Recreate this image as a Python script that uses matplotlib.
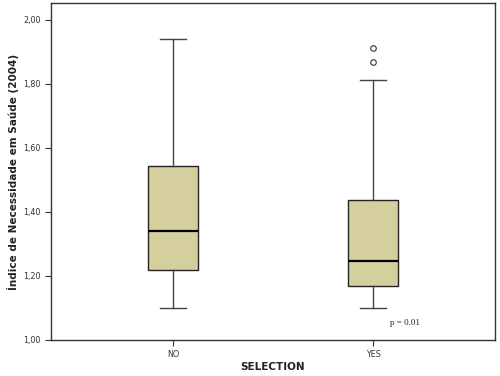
import matplotlib
matplotlib.use('Agg')
import matplotlib.pyplot as plt
from matplotlib.ticker import FuncFormatter

# values
groups = ['NO', 'YES']
whislo = [1.10, 1.10]
q1 = [1.22, 1.167]
medians = [1.341, 1.248]
q3 = [1.545, 1.438]
whishi = [1.942, 1.811]
outliers = [[], [1.870, 1.912]]
yticks = [1.0, 1.2, 1.4, 1.6, 1.8, 2.0]

stats = []
for i, g in enumerate(groups):
    stats.append(dict(label=g, whislo=whislo[i], q1=q1[i], med=medians[i],
                      q3=q3[i], whishi=whishi[i], fliers=outliers[i]))

fig = plt.figure(figsize=(5, 3.76), dpi=100)
ax = fig.add_axes([0.102, 0.096, 0.888, 0.896])

ax.bxp(stats, positions=[1, 2], widths=0.25, patch_artist=True,
       boxprops=dict(facecolor='#D4CF9C', edgecolor='#222222', linewidth=1.0),
       medianprops=dict(color='black', linewidth=1.6),
       whiskerprops=dict(color='#444444', linewidth=1.0),
       capprops=dict(color='#444444', linewidth=1.0),
       capwidths=0.13,
       flierprops=dict(marker='o', markersize=4, markerfacecolor='white',
                       markeredgecolor='#333333', markeredgewidth=0.8))

ax.set_xlim(0.39, 2.61)
ax.set_ylim(1.0, 2.053)
ax.set_yticks(yticks)
ax.yaxis.set_major_formatter(FuncFormatter(lambda v, p: ('%.2f' % v).replace('.', ',')))
ax.set_xticks([1, 2])
ax.set_xticklabels(groups)
ax.tick_params(labelsize=5.8, length=4, width=0.8, color='#333333', labelcolor='#333333')

for s in ax.spines.values():
    s.set_color('#333333')
    s.set_linewidth(1.0)

ax.set_xlabel('SELECTION', fontsize=7.5, fontweight='bold', color='#222222', labelpad=2)
ax.set_ylabel('Índice de Necessidade em Saúde (2004)', fontsize=7.5,
              fontweight='bold', color='#222222', labelpad=3)

ax.text(2.085, 1.053, 'p = 0.01', fontsize=6.5, family='Liberation Serif',
        va='center', ha='left', color='#222222')

fig.savefig('out.png', dpi=100)
